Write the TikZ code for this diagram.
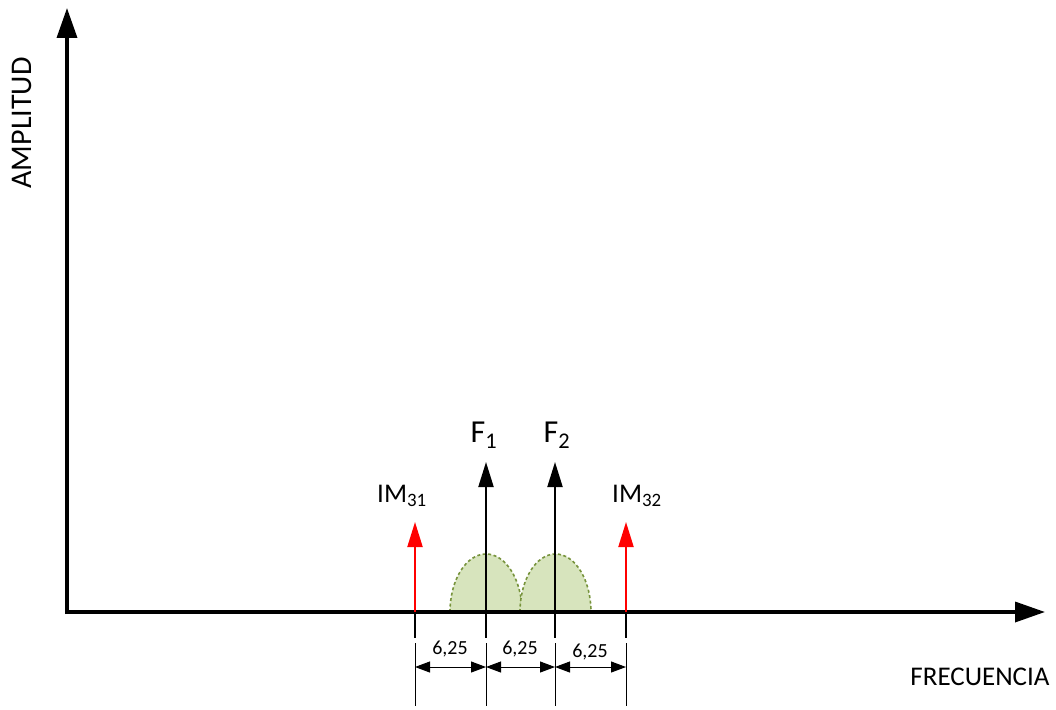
\documentclass[tikz,border=0pt]{standalone}
\usepackage{fontspec}
\setmainfont{Carlito}
\usetikzlibrary{arrows.meta}

\definecolor{bumpfill}{HTML}{D7E4BD}
\definecolor{bumpline}{HTML}{77933C}

\tikzset{
  axis/.style={line width=3.5pt, -{Triangle[length=30pt,width=20pt]}},
  tone/.style={line width=2pt, -{Triangle[length=25pt,width=15pt]}},
  imtone/.style={tone, red},
  bump/.style={fill=bumpfill, draw=bumpline, line width=1.6pt, dash pattern=on 3pt off 2.5pt},
  dimline/.style={line width=1pt, {Triangle[length=15pt,width=11pt]}-{Triangle[length=15pt,width=11pt]}},
  lbl/.style={inner sep=0pt, font=\fontsize{27}{31}\selectfont},
  toplbl/.style={inner sep=0pt, font=\fontsize{32}{36}\selectfont},
  dimlbl/.style={inner sep=0pt, font=\fontsize{20}{23}\selectfont},
}

\begin{document}
\begin{tikzpicture}[x=1pt, y=-1pt]
    \useasboundingbox (0,0) rectangle (1056,709);

    % Spectrum of each carrier
    \filldraw[bump] (450,612) arc[start angle=-180, end angle=0, x radius=36, y radius=58] -- cycle;
    \filldraw[bump] (520,612) arc[start angle=-180, end angle=0, x radius=35.5, y radius=58] -- cycle;

    % Axes
    \coordinate (O) at (67,612);
    \coordinate (ytip) at (67,8);
    \coordinate (xtip) at (1045,612);
    \draw[axis] (67,614) -- (ytip);
    \draw[axis] (65,612) -- (xtip);
    \node[lbl, font=\fontsize{30}{34}\selectfont, rotate=90] (amp) at (22,123) {AMPLITUD};
    \node[lbl] (freq) at (980,677) {FRECUENCIA};

    % Tones
    \foreach \name/\x in {im1/415, f1/486, f2/555, im2/626} {
        \coordinate (b\name) at (\x,612);
        \draw[line width=2pt] (\x,612) -- (\x,638);
        \draw[line width=0.8pt] (\x,643) -- (\x,706);
        \coordinate (d\name) at (\x,667);
    }
    \coordinate (tim1) at (415,522);
    \coordinate (tf1) at (486,462);
    \coordinate (tf2) at (555,462);
    \coordinate (tim2) at (626,522);
    \draw[imtone] (bim1) -- (tim1);
    \draw[tone] (bf1) -- (tf1);
    \draw[tone] (bf2) -- (tf2);
    \draw[imtone] (bim2) -- (tim2);

    % Labels
    \node[toplbl] (F1) at (484,435) {F\textsubscript{1}};
    \node[toplbl] (F2) at (557,435) {F\textsubscript{2}};
    \node[lbl] (IM31) at (402,496) {IM\textsubscript{31}};
    \node[lbl] (IM32) at (637,496) {IM\textsubscript{32}};

    % Spacing
    \draw[dimline] (dim1) -- (df1);
    \draw[dimline] (df1) -- (df2);
    \draw[dimline] (df2) -- (dim2);
    \node[dimlbl] (d1) at (450,649) {6,25};
    \node[dimlbl] (d2) at (520,649) {6,25};
    \node[dimlbl] (d3) at (590,652) {6,25};

\end{tikzpicture}
\end{document}
